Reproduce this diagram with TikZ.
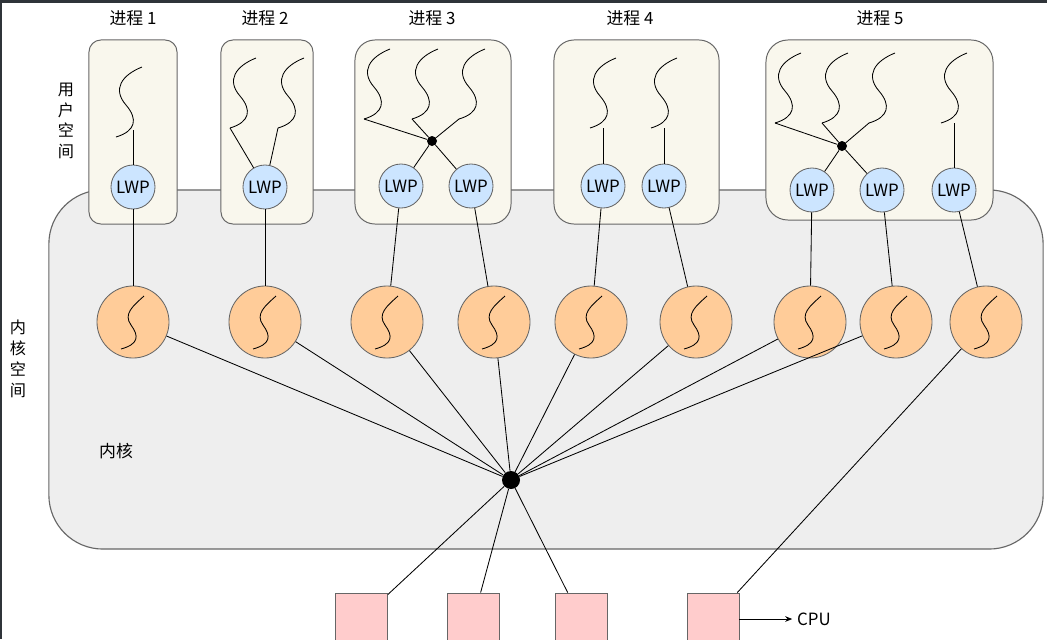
\documentclass[tikz,border=0pt]{standalone}
\usepackage{fontspec}
\setmainfont{Noto Sans CJK SC}
\usetikzlibrary{arrows.meta, positioning}
\definecolor{procfill}{HTML}{F9F7ED}
\definecolor{lwpfill}{HTML}{CCE5FF}
\definecolor{kthfill}{HTML}{FFCC99}
\definecolor{kernfill}{HTML}{EEEEEE}
\definecolor{cpufill}{HTML}{FFCCCC}
\definecolor{edgegray}{HTML}{666666}
\definecolor{framedark}{HTML}{2F3439}
\tikzset{
  procbox/.style={
    draw=edgegray,
    fill=procfill,
    rectangle,
    rounded corners=0.3cm,
    minimum height=4.6cm,
    line width=0.7pt
  },
  kernbox/.style={
    draw=edgegray,
    fill=kernfill,
    rectangle,
    rounded corners=1.35cm,
    line width=0.8pt
  },
  lwp/.style={
    draw=edgegray,
    fill=lwpfill,
    circle,
    minimum size=1.1cm,
    inner sep=0pt,
    line width=0.6pt,
    font=\fontsize{12pt}{14pt}\selectfont
  },
  kthread/.style={
    draw=edgegray,
    fill=kthfill,
    circle,
    minimum size=1.8cm,
    inner sep=0pt,
    line width=0.6pt
  },
  hub/.style={
    circle,
    fill=black,
    inner sep=0pt,
    minimum size=0.25cm
  },
  cpu/.style={
    draw=edgegray,
    fill=cpufill,
    rectangle,
    minimum size=1.3cm,
    inner sep=0pt,
    line width=0.6pt
  },
  title/.style={
    font=\fontsize{12pt}{14pt}\selectfont
  },
  vlabel/.style={
    align=center,
    font=\fontsize{11.5pt}{14.8pt}\selectfont
  },
  link/.style={
    line width=0.6pt
  },
  thread/.pic={
    \draw[link] (0,0) .. controls (-20,8) and (-30,22) .. (-16,38)
                      .. controls (-4,52) and (-6,64) .. (-26,70);
    \coordinate (-end) at (-26,70);
    \coordinate (-mid) at (-13,63);
  },
  wave/.pic={
    \draw[link] (11,-26) .. controls (0,-16) and (-10,-8) .. (-2,3)
                         .. controls (6,14) and (6,22) .. (-12,27);
  }
}

\begin{document}
\begin{tikzpicture}[x=0.025cm, y=-0.025cm]

\useasboundingbox (0,0) rectangle (1047,639);
\fill[white] (0,0) rectangle (1047,639);
\fill[framedark] (0,0) rectangle (1047,3);
\fill[framedark] (0,0) rectangle (2,639);

% --- Kernel space ---
\node[kernbox, minimum width=24.85cm, minimum height=8.975cm] (kern) at (546,369.5) {};

% --- Processes ---
\node[procbox, minimum width=2.2cm] (p1) at (133,132) {};
\node[procbox, minimum width=2.3cm] (p2) at (267,132) {};
\node[procbox, minimum width=3.9cm, rounded corners=0.5cm] (p3) at (433,132) {};
\node[procbox, minimum width=4.125cm, rounded corners=0.5cm] (p4) at (636.5,132) {};
\node[procbox, minimum width=5.675cm, minimum height=4.5cm, rounded corners=0.55cm] (p5) at (879.5,130) {};

\foreach \n/\x in {1/133, 2/265, 3/432, 4/630, 5/880}
  \node[title] (t\n) at (\x,18) {进程 \n};

% --- Labels ---
\node[vlabel] (uspace) at (66,121) {用\\户\\空\\间};
\node[vlabel] (kspace) at (18,359) {内\\核\\空\\间};
\node[title] (kname) at (116,451) {内核};

% --- User threads ---
\pic (th1) at (142,67) {thread};
\pic (th2a) at (256,58) {thread};
\pic (th2b) at (304,58) {thread};
\pic (th3a) at (390,49) {thread};
\pic (th3b) at (438,49) {thread};
\pic (th3c) at (485,49) {thread};
\pic (th4a) at (616,58) {thread};
\pic (th4b) at (677,58) {thread};
\pic (th5a) at (801,53) {thread};
\pic (th5b) at (848,53) {thread};
\pic (th5c) at (895,53) {thread};
\pic (th5d) at (967,53) {thread};

\node[hub] (j3) at (432,141) {};
\node[hub] (j5) at (842,146) {};

% --- LWPs ---
\node[lwp] (l1) at (133,187) {LWP};
\node[lwp] (l2) at (265,187) {LWP};
\node[lwp] (l3) at (401,186) {LWP};
\node[lwp] (l4) at (471,186) {LWP};
\node[lwp] (l5) at (603,186) {LWP};
\node[lwp] (l6) at (664,186) {LWP};
\node[lwp] (l7) at (812,190) {LWP};
\node[lwp] (l8) at (882,190) {LWP};
\node[lwp] (l9) at (954,190) {LWP};

% --- Kernel threads ---
\foreach \n/\x in {1/133, 2/265, 3/387, 4/494, 5/591, 6/696, 7/810, 8/896, 9/986} {
  \node[kthread] (k\n) at (\x,322) {};
  \pic at (k\n) {wave};
}

\node[hub, minimum size=0.45cm] (hub) at (511,480) {};

% --- CPUs ---
\node[cpu] (c1) at (361.5,619) {};
\node[cpu] (c2) at (473.5,619) {};
\node[cpu] (c3) at (581,619) {};
\node[cpu] (c4) at (713,619) {};
\node[title] (cpulbl) at (814,619) {CPU};

% --- Links ---
\draw[link] (l1) -- (l1 |- th1-mid);
\draw[link] (th2a-end) -- (l2);
\draw[link] (th2b-end) -- (l2);
\foreach \t in {th3a, th3b, th3c} \draw[link] (\t-end) -- (j3);
\draw[link] (j3) -- (l3);
\draw[link] (j3) -- (l4);
\draw[link] (l5) -- (l5 |- th4a-end);
\draw[link] (l6) -- (l6 |- th4b-end);
\foreach \t in {th5a, th5b, th5c} \draw[link] (\t-end) -- (j5);
\draw[link] (j5) -- (l7);
\draw[link] (j5) -- (l8);
\draw[link] (l9) -- (l9 |- th5d-end);

\foreach \n in {1,...,9} \draw[link] (l\n) -- (k\n);
\foreach \n in {1,...,8} \draw[link] (k\n) -- (hub);
\foreach \n in {1,2,3} \draw[link] (hub) -- (c\n);
\draw[link] (k9) -- (c4);
\draw[link, -{Stealth[length=5pt, width=4pt]}] (c4) -- (cpulbl);

\end{tikzpicture}
\end{document}
